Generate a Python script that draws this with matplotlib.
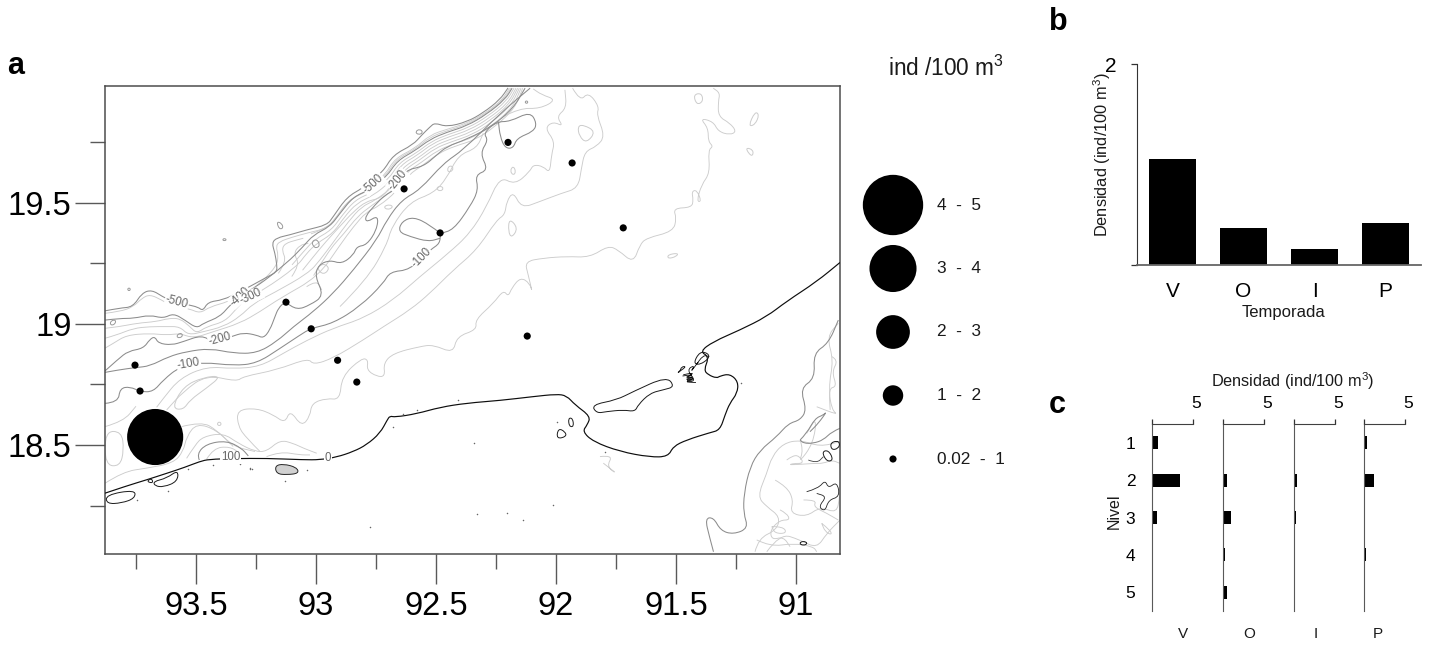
#!/usr/bin/env python

import matplotlib
matplotlib.use('Agg')
import matplotlib.pyplot as plt
from matplotlib.path import Path
from matplotlib.patches import PathPatch
from matplotlib.transforms import ScaledTranslation

plt.rcParams['font.family'] = ['Liberation Sans', 'DejaVu Sans']
plt.rcParams['mathtext.default'] = 'regular'

W, H = 1429, 646

# stations (longitude W, latitude N, density ind/100 m3)
station_lon = [92.2, 91.933, 92.633, 92.483, 91.72, 93.125, 93.02, 92.12, 92.91, 92.83, 93.754, 93.733, 93.67]
station_lat = [19.75, 19.665, 19.558, 19.376, 19.397, 19.09, 18.98, 18.95, 18.85, 18.76, 18.83, 18.723, 18.533]
station_dens = [0.5, 0.5, 0.5, 0.5, 0.5, 0.5, 0.5, 0.5, 0.5, 0.5, 0.5, 0.5, 4.18]

# legend classes
class_mid = [4.5, 3.5, 2.5, 1.5, 0.5]
class_labels = ['4  -  5', '3  -  4', '2  -  3', '1  -  2', '0.02  -  1']

# panel b
seasons = ['V', 'O', 'I', 'P']
season_mean = [1.055, 0.37, 0.16, 0.42]

# panel c
levels = [1, 2, 3, 4, 5]
level_V = [0.77, 3.4, 0.57, 0.0, 0.0]
level_O = [0.03, 0.45, 0.97, 0.24, 0.49]
level_I = [0.02, 0.32, 0.24, 0.06, 0.06]
level_P = [0.37, 1.22, 0.03, 0.2, 0.05]

# isobaths, (lon, lat)
iso_500 = [(93.88, 19.054), (93.817, 19.066), (93.763, 19.07), (93.725, 19.128), (93.684, 19.141), (93.638, 19.112),
           (93.609, 19.099), (93.534, 19.079), (93.492, 19.07), (93.471, 19.054), (93.45, 19.091), (93.388, 19.099),
           (93.317, 19.132), (93.204, 19.194), (93.163, 19.215), (93.163, 19.244), (93.171, 19.293), (93.184, 19.335),
           (93.163, 19.356), (93.109, 19.368), (93.038, 19.389), (92.954, 19.409), (92.929, 19.442), (92.871, 19.525),
           (92.804, 19.562), (92.721, 19.628), (92.679, 19.698), (92.596, 19.74), (92.559, 19.781), (92.525, 19.814),
           (92.505, 19.831), (92.455, 19.814), (92.371, 19.835), (92.304, 19.872), (92.234, 19.926), (92.2, 19.975)]
iso_450 = [(93.879, 19.044), (93.817, 19.051), (93.761, 19.071), (93.726, 19.106), (93.692, 19.122), (93.643, 19.099),
           (93.608, 19.078), (93.525, 19.062), (93.483, 19.044), (93.442, 19.071), (93.365, 19.092), (93.317, 19.12),
           (93.247, 19.154), (93.164, 19.237), (93.157, 19.285), (93.167, 19.32), (93.153, 19.34), (93.101, 19.358),
           (93.032, 19.377), (92.955, 19.395), (92.914, 19.443), (92.865, 19.512), (92.789, 19.547), (92.712, 19.616),
           (92.671, 19.684), (92.587, 19.726), (92.525, 19.781), (92.455, 19.804), (92.372, 19.829), (92.296, 19.87),
           (92.226, 19.923), (92.194, 19.974)]
iso_425 = [(93.021, 19.372), (92.948, 19.398), (92.907, 19.45), (92.855, 19.519), (92.782, 19.55), (92.708, 19.612),
           (92.666, 19.68), (92.587, 19.721), (92.525, 19.772), (92.455, 19.798), (92.372, 19.823), (92.292, 19.868),
           (92.219, 19.925), (92.188, 19.974)]
iso_400 = [(93.879, 19.016), (93.817, 19.023), (93.761, 19.023), (93.692, 19.037), (93.636, 19.023), (93.594, 19.044),
           (93.546, 19.016), (93.497, 18.982), (93.469, 19.003), (93.4, 19.03), (93.358, 19.078), (93.317, 19.113),
           (93.247, 19.154), (93.122, 19.251), (93.053, 19.32), (93.011, 19.368), (92.942, 19.402), (92.9, 19.457),
           (92.844, 19.526), (92.775, 19.554), (92.705, 19.609), (92.661, 19.675), (92.587, 19.716), (92.525, 19.763),
           (92.455, 19.792), (92.372, 19.818), (92.289, 19.866), (92.212, 19.928), (92.183, 19.974)]
iso_375 = [(93.1, 19.244), (93.046, 19.306), (93.004, 19.35), (92.935, 19.388), (92.891, 19.449), (92.836, 19.513),
           (92.77, 19.541), (92.697, 19.598), (92.654, 19.666), (92.582, 19.706), (92.52, 19.754), (92.45, 19.783),
           (92.366, 19.81), (92.284, 19.858), (92.206, 19.921), (92.175, 19.974)]
iso_350 = [(93.879, 18.982), (93.817, 18.989), (93.747, 19.003), (93.664, 19.01), (93.615, 19.023), (93.567, 19.023),
           (93.525, 18.989), (93.497, 18.961), (93.456, 18.989), (93.379, 19.01), (93.33, 19.065), (93.289, 19.106),
           (93.219, 19.14), (93.08, 19.237), (93.039, 19.292), (92.997, 19.333), (92.928, 19.375), (92.883, 19.441),
           (92.828, 19.501), (92.764, 19.529), (92.689, 19.588), (92.647, 19.657), (92.578, 19.697), (92.514, 19.746),
           (92.444, 19.774), (92.361, 19.801), (92.278, 19.85), (92.199, 19.914), (92.167, 19.974)]
iso_325 = [(93.056, 19.222), (93.011, 19.278), (92.959, 19.34), (92.896, 19.408), (92.846, 19.462), (92.791, 19.507),
           (92.726, 19.52), (92.683, 19.578), (92.64, 19.646), (92.572, 19.687), (92.509, 19.736), (92.44, 19.763),
           (92.356, 19.791), (92.273, 19.841), (92.192, 19.91), (92.16, 19.974)]
iso_300 = [(93.879, 18.941), (93.831, 18.954), (93.761, 18.982), (93.692, 18.989), (93.622, 18.989), (93.567, 18.989),
           (93.532, 18.954), (93.469, 18.968), (93.386, 18.989), (93.317, 19.03), (93.261, 19.085), (93.178, 19.127),
           (93.032, 19.209), (92.983, 19.264), (92.921, 19.347), (92.865, 19.423), (92.81, 19.485), (92.754, 19.51),
           (92.678, 19.567), (92.633, 19.636), (92.567, 19.678), (92.504, 19.726), (92.435, 19.753), (92.351, 19.781),
           (92.268, 19.832), (92.185, 19.905), (92.153, 19.974)]
iso_275 = [(93.01, 19.2), (92.95, 19.3), (92.882, 19.375), (92.827, 19.444), (92.772, 19.487), (92.671, 19.557),
           (92.624, 19.626), (92.56, 19.668), (92.497, 19.715), (92.428, 19.744), (92.344, 19.77), (92.261, 19.823),
           (92.178, 19.898), (92.146, 19.974)]
iso_250 = [(93.879, 18.9), (93.844, 18.92), (93.789, 18.954), (93.692, 18.961), (93.622, 18.954), (93.567, 18.961),
           (93.511, 18.941), (93.428, 18.968), (93.317, 19.003), (93.233, 19.051), (93.15, 19.106), (92.99, 19.196),
           (92.9, 19.326), (92.844, 19.402), (92.789, 19.464), (92.74, 19.485), (92.664, 19.547), (92.615, 19.616),
           (92.553, 19.657), (92.49, 19.705), (92.421, 19.735), (92.337, 19.76), (92.254, 19.815), (92.171, 19.891),
           (92.139, 19.974)]
iso_200 = [(93.879, 18.806), (93.824, 18.855), (93.782, 18.888), (93.719, 18.899), (93.692, 18.937), (93.671, 18.948),
           (93.657, 18.92), (93.601, 18.913), (93.553, 18.927), (93.476, 18.954), (93.428, 18.924), (93.351, 18.948),
           (93.303, 18.964), (93.247, 18.954), (93.219, 18.941), (93.192, 18.975), (93.171, 19.03), (93.157, 19.065),
           (93.129, 19.092), (93.08, 19.058), (93.025, 19.078), (92.967, 19.117), (93.004, 19.196), (92.99, 19.244),
           (92.942, 19.264), (92.893, 19.248), (92.844, 19.285), (92.83, 19.32), (92.789, 19.326), (92.747, 19.388),
           (92.74, 19.45), (92.789, 19.419), (92.796, 19.443), (92.754, 19.492), (92.712, 19.533), (92.671, 19.554),
           (92.629, 19.636), (92.553, 19.65), (92.497, 19.698), (92.455, 19.733), (92.372, 19.763), (92.268, 19.815),
           (92.178, 19.891), (92.129, 19.974)]
iso_150 = [(93.879, 18.8), (93.824, 18.81), (93.751, 18.82), (93.692, 18.826), (93.615, 18.865), (93.539, 18.886),
           (93.442, 18.899), (93.344, 18.879), (93.247, 18.879), (93.164, 18.927), (93.094, 18.989), (93.011, 19.051),
           (92.928, 19.127), (92.844, 19.223), (92.747, 19.347), (92.705, 19.43), (92.643, 19.512), (92.567, 19.554),
           (92.469, 19.664), (92.386, 19.719), (92.233, 19.87), (92.108, 19.974)]
iso_100 = [(93.879, 18.672), (93.824, 18.676), (93.817, 18.734), (93.775, 18.741), (93.731, 18.72), (93.678, 18.72),
           (93.636, 18.769), (93.567, 18.824), (93.469, 18.842), (93.344, 18.828), (93.247, 18.837), (93.15, 18.899),
           (93.067, 18.954), (93.021, 18.982), (92.928, 19.003), (92.817, 19.072), (92.719, 19.168), (92.692, 19.216),
           (92.608, 19.223), (92.525, 19.306), (92.483, 19.333), (92.483, 19.375), (92.428, 19.388), (92.358, 19.485),
           (92.323, 19.554), (92.337, 19.616), (92.282, 19.636), (92.317, 19.705), (92.282, 19.76), (92.303, 19.788),
           (92.247, 19.836), (92.192, 19.836), (92.108, 19.877), (92.08, 19.829), (92.094, 19.795), (92.164, 19.767),
           (92.178, 19.726), (92.212, 19.726), (92.233, 19.774), (92.24, 19.836)]
iso_100_spur = [(92.483, 19.375), (92.525, 19.409), (92.594, 19.443), (92.643, 19.423), (92.657, 19.381),
                (92.608, 19.361), (92.532, 19.34), (92.483, 19.354)]
iso_75 = [(92.9, 19.072), (92.789, 19.182), (92.705, 19.326), (92.685, 19.402), (92.608, 19.505), (92.511, 19.54),
          (92.455, 19.602), (92.407, 19.698), (92.33, 19.726), (92.303, 19.788)]
iso_50 = [(93.664, 18.656), (93.636, 18.693), (93.567, 18.776), (93.456, 18.824), (93.344, 18.815), (93.233, 18.824),
          (93.136, 18.879), (93.039, 18.932), (92.928, 18.983), (92.803, 19.023), (92.678, 19.099), (92.567, 19.196),
          (92.448, 19.292), (92.358, 19.375), (92.289, 19.485), (92.234, 19.609), (92.171, 19.575), (92.109, 19.63),
          (92.095, 19.658), (92.053, 19.651), (92.026, 19.623), (92.019, 19.699), (92.005, 19.754), (92.047, 19.809),
          (92.012, 19.836), (91.97, 19.816), (91.998, 19.857), (91.956, 19.892), (91.963, 19.967)]
iso_40 = [(91.931, 19.974), (91.9, 19.919), (91.866, 19.958), (91.82, 19.898), (91.831, 19.864), (91.796, 19.775),
          (91.831, 19.733), (91.88, 19.713), (91.894, 19.644), (91.908, 19.561), (91.977, 19.54), (92.067, 19.506),
          (92.144, 19.478), (92.178, 19.547), (92.206, 19.506), (92.213, 19.451), (92.247, 19.43), (92.33, 19.306),
          (92.428, 19.223), (92.525, 19.127), (92.608, 19.058), (92.719, 18.989), (92.803, 18.934), (92.928, 18.859),
          (93.011, 18.831), (93.032, 18.859), (93.164, 18.81), (93.303, 18.783), (93.33, 18.762), (93.456, 18.79),
          (93.553, 18.721), (93.622, 18.645)]
iso_25 = [(93.233, 18.473), (93.289, 18.528), (93.324, 18.576), (93.33, 18.645), (93.247, 18.652), (93.178, 18.625),
          (93.129, 18.59), (93.108, 18.645), (93.06, 18.576), (93.025, 18.618), (93.018, 18.673), (92.955, 18.693),
          (92.9, 18.687), (92.893, 18.783), (92.81, 18.859), (92.782, 18.852), (92.789, 18.81), (92.747, 18.783),
          (92.712, 18.783), (92.719, 18.838), (92.678, 18.879), (92.567, 18.907), (92.511, 18.914), (92.428, 18.879),
          (92.414, 18.948), (92.33, 18.976), (92.337, 19.017), (92.261, 19.085), (92.219, 19.14), (92.199, 19.113),
          (92.185, 19.148), (92.148, 19.193), (92.109, 19.168), (92.098, 19.127), (92.116, 19.203), (92.13, 19.258),
          (92.053, 19.272), (91.956, 19.279), (91.859, 19.275), (91.783, 19.323), (91.741, 19.306), (91.678, 19.251),
          (91.651, 19.327), (91.623, 19.355), (91.512, 19.382), (91.498, 19.437), (91.512, 19.478), (91.435, 19.481),
          (91.428, 19.513), (91.435, 19.547), (91.414, 19.554), (91.394, 19.506), (91.414, 19.506), (91.394, 19.575),
          (91.359, 19.623), (91.366, 19.719), (91.345, 19.733), (91.366, 19.754), (91.366, 19.809), (91.4, 19.85),
          (91.345, 19.836), (91.324, 19.795), (91.276, 19.781), (91.248, 19.795), (91.276, 19.83), (91.324, 19.857),
          (91.324, 19.919), (91.317, 19.954), (91.345, 19.974)]
iso_top = [(92.22, 19.857), (92.151, 19.892), (92.067, 19.889), (91.998, 19.926), (92.06, 19.947), (92.095, 19.971)]
iso_west = [(93.879, 18.576), (93.803, 18.597), (93.75, 18.66)]
iso_halo = [(93.879, 18.342), (93.803, 18.39), (93.706, 18.404), (93.595, 18.425), (93.553, 18.473), (93.539, 18.535),
            (93.497, 18.59), (93.414, 18.562), (93.345, 18.494), (93.254, 18.473)]
iso_shelf = [(93.56, 18.576), (93.477, 18.597), (93.414, 18.562), (93.345, 18.494)]
iso_bank = [(93.539, 18.445), (93.504, 18.5), (93.47, 18.535), (93.386, 18.549), (93.324, 18.507), (93.254, 18.473),
            (93.206, 18.473), (93.15, 18.521), (93.095, 18.507), (93.053, 18.487), (92.997, 18.466)]
iso_bank2 = [(93.206, 18.452), (93.15, 18.473), (93.067, 18.459), (93.025, 18.459)]
iso_land1 = [(93.486, 18.438), (93.497, 18.463), (93.456, 18.505), (93.373, 18.518), (93.31, 18.487), (93.282, 18.455)]
iso_land2 = [(93.456, 18.441), (93.428, 18.487), (93.359, 18.494), (93.317, 18.466)]
iso_bay1 = [(93.157, 19.209), (93.122, 19.258), (93.143, 19.306), (93.129, 19.333), (93.08, 19.347), (93.053, 19.354)]
iso_bay2 = [(93.101, 19.196), (93.067, 19.244), (93.094, 19.292), (93.067, 19.326), (93.032, 19.333)]
iso_bay3 = [(93.039, 19.154), (92.997, 19.182), (92.976, 19.14)]

# closed contours: sea knolls and banks
light_loops = [
    [(93.879, 18.556), (93.81, 18.556), (93.8, 18.48), (93.817, 18.411), (93.879, 18.418)],
    [(93.601, 18.652), (93.553, 18.742), (93.469, 18.78), (93.393, 18.786), (93.456, 18.735), (93.525, 18.686), (93.553, 18.645)],
    [(93.413, 18.587), (93.403, 18.597), (93.393, 18.587), (93.403, 18.578)],
    [(92.455, 19.636), (92.442, 19.657), (92.425, 19.643), (92.442, 19.625)],
    [(92.5, 19.56), (92.483, 19.571), (92.467, 19.56), (92.483, 19.547)],
    [(92.719, 19.485), (92.692, 19.494), (92.678, 19.482), (92.703, 19.471)],
    [(92.997, 19.23), (92.969, 19.251), (92.942, 19.23), (92.969, 19.202)],
    [(92.192, 19.633), (92.178, 19.653), (92.167, 19.629), (92.178, 19.613)],
    [(91.199, 19.816), (91.171, 19.878), (91.153, 19.864), (91.171, 19.823)],
    [(91.209, 19.729), (91.178, 19.719), (91.181, 19.692), (91.199, 19.706)],
    [(91.428, 19.947), (91.394, 19.954), (91.387, 19.919), (91.414, 19.905)],
    [(91.91, 19.816), (91.887, 19.823), (91.834, 19.795), (91.873, 19.747), (91.903, 19.775)],
    [(92.195, 19.437), (92.158, 19.396), (92.185, 19.355), (92.199, 19.382)],
    [(91.535, 19.286), (91.491, 19.293), (91.498, 19.279), (91.533, 19.269)],
]
mid_loops = [
    [(93.164, 19.423), (93.143, 19.416), (93.136, 19.395), (93.154, 19.392)],
    [(93.39, 19.348), (93.382, 19.354), (93.372, 19.348), (93.382, 19.343)],
    [(93.786, 19.143), (93.779, 19.15), (93.772, 19.143), (93.779, 19.136)],
    [(93.861, 19.003), (93.844, 19.019), (93.831, 19.01), (93.847, 18.992)],
    [(93.583, 18.948), (93.567, 18.964), (93.553, 18.954), (93.567, 18.941)],
    [(93.018, 19.34), (92.997, 19.351), (92.983, 19.326), (92.997, 19.313), (93.011, 19.32)],
    [(92.587, 19.794), (92.567, 19.806), (92.553, 19.79), (92.574, 19.781)],
    [(92.13, 19.916), (92.123, 19.923), (92.116, 19.916), (92.123, 19.91)],
]

# coast line and lagoon
coast = [(93.879, 18.301), (93.789, 18.331), (93.706, 18.356), (93.622, 18.383), (93.546, 18.408), (93.484, 18.432),
         (93.445, 18.441), (93.345, 18.444), (93.206, 18.445), (93.053, 18.439), (92.983, 18.439), (92.914, 18.45),
         (92.844, 18.473), (92.789, 18.501), (92.733, 18.549), (92.703, 18.604), (92.692, 18.62), (92.671, 18.615),
         (92.581, 18.629), (92.483, 18.656), (92.372, 18.673), (92.233, 18.684), (92.095, 18.7), (91.998, 18.71),
         (91.956, 18.704), (91.921, 18.666), (91.856, 18.618), (91.87, 18.583), (91.89, 18.556), (91.845, 18.514),
         (91.734, 18.473), (91.609, 18.45), (91.533, 18.452), (91.512, 18.494), (91.456, 18.521), (91.359, 18.551),
         (91.317, 18.562), (91.296, 18.624), (91.276, 18.673), (91.245, 18.714), (91.241, 18.762), (91.276, 18.794),
         (91.317, 18.785), (91.331, 18.776), (91.366, 18.79), (91.384, 18.81), (91.362, 18.865), (91.401, 18.886),
         (91.345, 18.927), (91.234, 18.975), (91.123, 19.03), (91.04, 19.093), (90.914, 19.175), (90.817, 19.254)]
knot = [(91.47, 18.79), (91.415, 18.803), (91.463, 18.776), (91.415, 18.776), (91.47, 18.762), (91.415, 18.762),
        (91.456, 18.81), (91.421, 18.831), (91.442, 18.797), (91.401, 18.852), (91.421, 18.824), (91.387, 18.872),
        (91.362, 18.865)]
knot2 = [(91.473, 18.785), (91.415, 18.794), (91.473, 18.777), (91.415, 18.783), (91.473, 18.769), (91.415, 18.772),
         (91.47, 18.761), (91.417, 18.758)]
dark_loops = [
    [(91.852, 18.666), (91.748, 18.686), (91.678, 18.721), (91.54, 18.783), (91.505, 18.741), (91.553, 18.728),
     (91.609, 18.714), (91.658, 18.666), (91.671, 18.638), (91.72, 18.645), (91.79, 18.638), (91.831, 18.631)],
    [(93.875, 18.294), (93.754, 18.315), (93.754, 18.28), (93.81, 18.26), (93.872, 18.257)],
    [(93.678, 18.349), (93.622, 18.363), (93.574, 18.397), (93.577, 18.349), (93.636, 18.326), (93.671, 18.331)],
    [(93.706, 18.349), (93.685, 18.363), (93.678, 18.342)],
    [(91.991, 18.569), (91.963, 18.556), (91.956, 18.535), (91.998, 18.525)],
    [(91.949, 18.611), (91.931, 18.611), (91.926, 18.576), (91.945, 18.576)],
    [(90.858, 18.507), (90.83, 18.518), (90.817, 18.507), (90.824, 18.486), (90.851, 18.479)],
    [(90.893, 18.472), (90.865, 18.479), (90.844, 18.438), (90.872, 18.431)],
    [(90.983, 18.101), (90.956, 18.101), (90.956, 18.087), (90.983, 18.087)],
    [(91.498, 18.796), (91.456, 18.824), (91.477, 18.824), (91.484, 18.803)],
    [(91.428, 18.838), (91.401, 18.886), (91.366, 18.879), (91.362, 18.858), (91.401, 18.831)],
]
island_filled = [(93.171, 18.414), (93.136, 18.422), (93.081, 18.408), (93.071, 18.383), (93.122, 18.377), (93.164, 18.381)]

# wetlands in the south east corner
marsh_q = [(91.344, 18.059), (91.361, 18.121), (91.379, 18.197), (91.344, 18.201), (91.314, 18.146), (91.261, 18.131),
           (91.199, 18.156), (91.219, 18.218), (91.217, 18.3), (91.192, 18.41), (91.15, 18.479), (91.081, 18.534),
           (91.032, 18.589), (90.983, 18.603), (90.956, 18.645), (90.983, 18.734), (90.921, 18.775), (90.928, 18.879),
           (90.865, 18.92), (90.824, 19.016)]
marsh_r = [(91.171, 18.059), (91.157, 18.114), (91.081, 18.149), (91.067, 18.204), (91.122, 18.245), (91.161, 18.287),
           (91.122, 18.383), (91.101, 18.452), (91.053, 18.507), (90.983, 18.521), (90.9, 18.493), (90.817, 18.514)]
marsh_s = [(91.087, 18.355), (91.039, 18.328), (91.011, 18.273), (91.025, 18.218), (90.956, 18.204), (90.9, 18.245),
           (90.83, 18.218), (90.819, 18.287)]
marsh_t = [(91.122, 18.059), (91.067, 18.135), (90.983, 18.108), (90.914, 18.073), (90.872, 18.135), (90.817, 18.19)]
marsh_w = [(90.983, 18.521), (90.969, 18.479), (90.99, 18.424), (90.928, 18.507), (90.914, 18.617), (90.956, 18.548)]
marsh_x = [(90.858, 18.645), (90.865, 18.741), (90.844, 18.851), (90.872, 18.947), (90.824, 19.003)]
marsh_y = [(91.101, 18.163), (91.053, 18.163), (91.039, 18.135), (91.088, 18.135), (91.101, 18.163)]
marsh_z = [(90.893, 18.176), (90.858, 18.149), (90.851, 18.128), (90.879, 18.142), (90.893, 18.176)]
marsh_a = [(90.983, 18.521), (90.956, 18.548), (90.921, 18.61), (90.886, 18.624), (90.872, 18.638), (90.907, 18.59), (90.942, 18.555)]
marsh_b = [(91.039, 18.438), (91.011, 18.459), (90.983, 18.452), (90.969, 18.424), (91.011, 18.424), (91.032, 18.417),
           (90.928, 18.424), (90.886, 18.424), (90.851, 18.438), (90.817, 18.424)]
marsh_c = [(91.067, 18.232), (91.039, 18.218), (91.025, 18.19), (91.067, 18.19), (91.108, 18.149), (91.101, 18.108),
           (91.053, 18.121), (91.025, 18.08)]
marsh_d = [(91.164, 18.108), (91.108, 18.08), (91.011, 18.094), (90.928, 18.08), (90.914, 18.059)]
marsh_e = [(90.851, 18.865), (90.824, 18.851), (90.851, 18.803), (90.83, 18.741), (90.865, 18.734), (90.851, 18.645),
           (90.824, 18.624), (90.914, 18.658)]
marsh_g = [(90.817, 18.569), (90.851, 18.555), (90.886, 18.521), (90.928, 18.507), (90.969, 18.507), (90.983, 18.521)]
marsh_i = [(90.969, 18.273), (90.914, 18.273), (90.928, 18.245), (90.872, 18.218), (90.824, 18.19)]
marsh_dark = [(90.956, 18.307), (90.907, 18.321), (90.879, 18.355), (90.865, 18.321), (90.83, 18.349), (90.817, 18.287),
              (90.865, 18.273), (90.879, 18.225), (90.907, 18.245), (90.872, 18.287), (90.914, 18.3)]
marsh_dark2 = [(90.949, 18.438), (90.914, 18.424), (90.886, 18.452)]
delta_scrawl = [(91.817, 18.452), (91.762, 18.459), (91.79, 18.411), (91.741, 18.377), (91.803, 18.425)]

# small specks along the coast
speck_lon = [93.428, 93.317, 93.275, 93.266, 93.532, 93.616, 93.747, 93.275, 93.039, 93.129, 92.68, 92.407, 92.342,
             92.331, 92.775, 92.581, 92.636, 91.998, 91.231, 91.796, 92.206, 92.012, 92.137]
speck_lat = [18.418, 18.422, 18.404, 18.4, 18.4, 18.308, 18.273, 18.401, 18.397, 18.352, 18.574, 18.687, 18.51,
             18.216, 18.16, 18.645, 18.629, 18.593, 18.755, 18.47, 18.218, 18.253, 18.191]

# depth labels
depth_text = ['-500', '-500', '-400', '-300', '-200', '-200', '-100', '-100', '100', '0']
depth_lon = [93.58, 92.76, 93.317, 93.27, 93.4, 92.658, 93.53, 92.56, 93.355, 92.95]
depth_lat = [19.09, 19.578, 19.113, 19.113, 18.938, 19.593, 18.835, 19.272, 18.449, 18.447]
depth_rot = [-15, 42, 42, 25, 15, 50, 10, 45, 0, 0]

light_lines = [iso_450, iso_425, iso_375, iso_350, iso_325, iso_300, iso_275, iso_250, iso_75, iso_50, iso_40, iso_25,
               iso_top, iso_west, iso_halo, iso_shelf, iso_bank, iso_bank2, iso_land2, iso_bay1, iso_bay2, iso_bay3,
               marsh_r, marsh_s, marsh_t, marsh_w, marsh_x, marsh_y, marsh_z, marsh_b, marsh_c, marsh_d, marsh_e,
               marsh_i, delta_scrawl]
mid_lines = [iso_500, iso_400, iso_200, iso_150, iso_100, iso_100_spur, iso_land1, marsh_q, marsh_a, marsh_g]


def px_rect(x0, y0, x1, y1):
    return [x0 / W, 1 - y1 / H, (x1 - x0) / W, (y1 - y0) / H]


def smooth(pts, closed=False):
    # quadratic pieces through the midpoints, so the traced lines are not angular
    mids = [((a[0] + b[0]) / 2, (a[1] + b[1]) / 2) for a, b in zip(pts, pts[1:] + pts[:1])]
    if closed:
        verts = [mids[-1]]
        for p, m in zip(pts, mids):
            verts += [p, m]
    else:
        verts = [pts[0]]
        for p, m in zip(pts[1:-1], mids[1:-1]):
            verts += [p, m]
        verts.append(pts[-1])
    codes = [Path.MOVETO] + [Path.CURVE3] * (len(verts) - 1)
    if not closed:
        codes[-1] = Path.LINETO
    return Path(verts, codes)


def draw(ax, pts, color, lw, closed=False, fill='none', z=2):
    ax.add_patch(PathPatch(smooth(pts, closed), facecolor=fill, edgecolor=color, lw=lw, zorder=z))


def bubble_area(v):
    # diameter in pixels from class value, to points squared
    return ((0.5 + 13.3 * v) * 0.72) ** 2


fig = plt.figure(figsize=(W / 100, H / 100), dpi=100)

# panel a, the map
ax = fig.add_axes(px_rect(105, 86, 840, 553.7))
ax.set_xlim(93.879, 90.817)
ax.set_ylim(18.051, 19.983)
for line in light_lines:
    draw(ax, line, '0.8', 0.65)
for loop in light_loops:
    draw(ax, loop, '0.8', 0.7, closed=True)
for line in mid_lines:
    draw(ax, line, '0.55', 0.75)
for loop in mid_loops:
    draw(ax, loop, '0.6', 0.7, closed=True)
draw(ax, coast, '0.05', 0.85, z=3)
draw(ax, knot, '0.05', 0.6, z=3)
draw(ax, knot2, '0.05', 0.6, z=3)
draw(ax, marsh_dark, '0.15', 0.6, z=3)
draw(ax, marsh_dark2, '0.25', 0.6, z=3)
for loop in dark_loops:
    draw(ax, loop, '0.1', 0.7, closed=True, z=3)
draw(ax, island_filled, '0.15', 0.7, closed=True, fill='0.82', z=3)
ax.scatter(speck_lon, speck_lat, s=1.2, c='0.4', lw=0, zorder=3)

for t, lo, la, r in zip(depth_text, depth_lon, depth_lat, depth_rot):
    ax.text(lo, la, t, fontsize=8.3, color='0.4', rotation=r, ha='center', va='center', zorder=4,
            rotation_mode='anchor', bbox=dict(fc='white', ec='none', pad=0.5))

ax.scatter(station_lon, station_lat, s=[bubble_area(v) for v in station_dens], c='black', lw=0, zorder=5)

ax.set_xticks([93.5, 93, 92.5, 92, 91.5, 91], ['93.5', '93', '92.5', '92', '91.5', '91'])
ax.set_xticks([93.75, 93.25, 92.75, 92.25, 91.75, 91.25], minor=True)
ax.set_yticks([19.5, 19, 18.5], ['19.5', '19', '18.5'])
ax.set_yticks([19.75, 19.25, 18.75, 18.25], minor=True)
ax.tick_params(which='major', length=21.6, width=1, color='0.35', labelsize=23.5, pad=5.5)
ax.tick_params(axis='y', which='major', pad=2.5)
ax.tick_params(which='minor', length=10.8, width=1, color='0.35')
for sp in ax.spines.values():
    sp.set_color('0.3')
    sp.set_linewidth(1.1)

# size legend of the map
axl = fig.add_axes(px_rect(860, 173.25, 1015, 490.75))
axl.set_axis_off()
axl.set_xlim(860, 1015)
axl.set_ylim(0, 5)
axl.scatter([893] * len(class_mid), class_mid, s=[bubble_area(v) for v in class_mid], c='black', lw=0, clip_on=False)
for v, t in zip(class_mid, class_labels):
    axl.text(937, v, t, fontsize=12.4, color='0.1', va='center', ha='left')

# panel b
axb = fig.add_axes(px_rect(1137, 64, 1421, 265))
axb.bar(range(4), season_mean, width=0.66, color='black')
axb.set_xlim(-0.5, 3.5)
axb.set_ylim(0, 2)
axb.set_xticks(range(4), seasons)
axb.set_yticks([0, 2], ['', '2'])
axb.tick_params(axis='x', length=0, labelsize=15, pad=12)
axb.tick_params(axis='y', length=4.3, width=0.9, color='0.2', labelsize=15, pad=10.5)
axb.spines[['top', 'right']].set_visible(False)
axb.spines['left'].set_color('0.2')
axb.spines['bottom'].set_color('0.4')
axb.spines['bottom'].set_linewidth(1.3)

# panel c
level_series = [level_V, level_O, level_I, level_P]
panel_left = [1152, 1223, 1294, 1364]
shift = ScaledTranslation(3 / 100, 0, fig.dpi_scale_trans)
for i, (vals, x0) in enumerate(zip(level_series, panel_left)):
    axc = fig.add_axes(px_rect(x0, 424, x0 + 41, 611))
    axc.barh(levels, vals, height=0.35, color='black')
    axc.set_xlim(0, 5)
    axc.set_ylim(5.5, 0.5)
    axc.xaxis.tick_top()
    axc.set_xticks([0, 5], ['', '5'])
    axc.tick_params(axis='x', length=3.6, width=0.9, color='0.2', labelsize=12.5, pad=6)
    for lbl in axc.get_xticklabels():
        lbl.set_transform(lbl.get_transform() + shift)
    if i == 0:
        axc.set_yticks(levels)
        axc.tick_params(axis='y', length=0, labelsize=12.5, pad=12)
    else:
        axc.set_yticks([])
    axc.spines[['bottom', 'right']].set_visible(False)
    axc.spines['left'].set_color('0.35')
    axc.spines['top'].set_color('0.25')

# free text
fig.text(16 / W, 1 - 66 / H, 'a', fontsize=22, fontweight='bold', ha='center', va='center')
fig.text(1058 / W, 1 - 22 / H, 'b', fontsize=22, fontweight='bold', ha='center', va='center')
fig.text(1057 / W, 1 - 405 / H, 'c', fontsize=22, fontweight='bold', ha='center', va='center')
fig.text(888 / W, 1 - 68 / H, 'ind /100 m$^3$', fontsize=16.3, ha='left', va='center', color='0.1')
fig.text(1102 / W, 1 - 155 / H, 'Densidad (ind/100 m$^3$)', fontsize=11.8, rotation=90, ha='center', va='center', color='0.1')
fig.text(1283 / W, 1 - 312 / H, 'Temporada', fontsize=12, ha='center', va='center', color='0.1')
fig.text(1293 / W, 1 - 381 / H, 'Densidad (ind/100 m$^3$)', fontsize=11.7, ha='center', va='center', color='0.1')
fig.text(1114 / W, 1 - 511 / H, 'Nivel', fontsize=11.5, rotation=90, ha='center', va='center', color='0.1')
for s, x in zip(seasons, [1183, 1249, 1316, 1378]):
    fig.text(x / W, 1 - 634 / H, s, fontsize=11, ha='center', va='center', color='0.1')

fig.savefig('out.png', dpi=100)
